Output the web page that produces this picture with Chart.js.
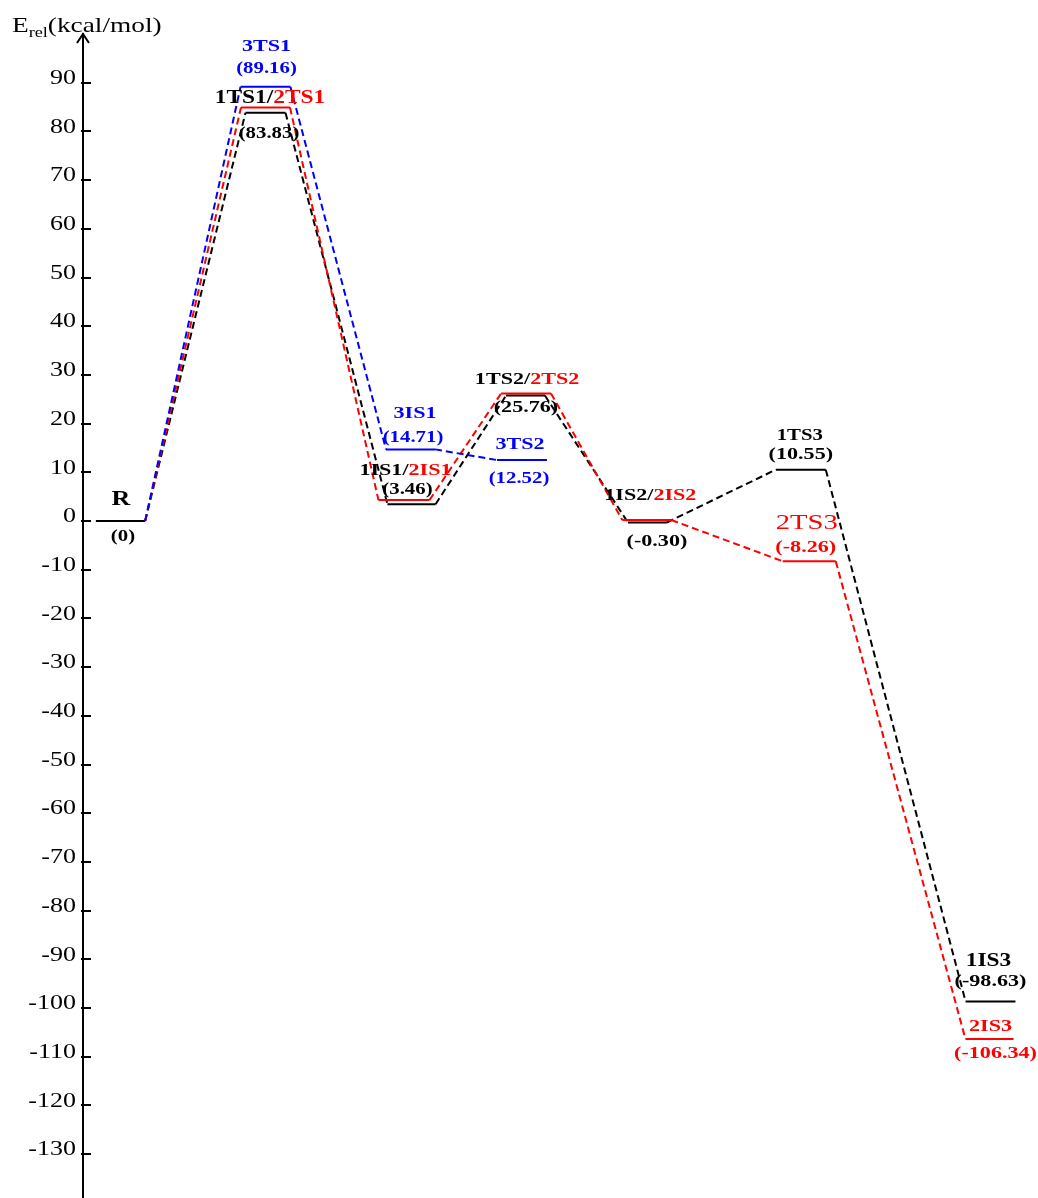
<!DOCTYPE html>
<html>
<head>
<meta charset="utf-8">
<script src="https://cdn.jsdelivr.net/npm/chart.js@4.4.1/dist/chart.umd.min.js"></script>
<style>
  html, body { margin: 0; padding: 0; background: #fff; }
</style>
</head>
<body>
<canvas id="profile" width="1038" height="1198"></canvas>
<script>
// Relative energies (kcal/mol) for each spin state along the path
const stages = ['R', 'TS1', 'IS1', 'TS2', 'IS2', 'TS3', 'IS3'];
const singletE = [0, 83.83, 3.46, 25.76, -0.30, 10.55, -98.63];
const doubletE = [0, 84.9, 4.3, 26.2, 0.2, -8.26, -106.34];
const tripletE = [0, 89.16, 14.71, 12.52];
const yTicks = [90, 80, 70, 60, 50, 40, 30, 20, 10, 0, -10, -20, -30, -40, -50, -60, -70, -80, -90, -100, -110, -120, -130];

// reaction coordinate of each stage; small shifts / half widths per level
const stageX = [0, 1, 2, 2.79, 3.63, 4.72, 6];
const series = {
  s1: { E: singletE, color: '#000000', shift: [0, 0, 0.007, 0.003, 0.004, -0.028, 0], half: [0.17, 0.138, 0.166, 0.134, 0.134, 0.172, 0.172] },
  s2: { E: doubletE, color: '#ff0000', shift: [0, 0, -0.045, 0.007, 0, 0.03, -0.007], half: [0.17, 0.169, 0.176, 0.172, 0.169, 0.183, 0.166] },
  s3: { E: tripletE, color: '#0000ff', shift: [0, 0, 0, -0.021], half: [0.17, 0.172, 0.169, 0.172] }
};

const SX = 1.3; // glyphs are drawn a little wide
const SERIF = '"Liberation Serif", "Times New Roman", serif';

function levelPoints(s, fromRight) {
  const pts = [];
  s.E.forEach((e, i) => {
    const c = stageX[i] + s.shift[i];
    if (!(fromRight && i === 0)) pts.push({ x: c - s.half[i], y: e });
    pts.push({ x: c + s.half[i], y: e });
  });
  return pts;
}

function lineSet(s, fromRight) {
  return {
    data: levelPoints(s, fromRight),
    borderColor: s.color,
    borderWidth: 2,
    pointRadius: 0,
    tension: 0,
    fill: false,
    segment: {
      // flat pieces are the energy levels, sloped pieces the dashed connectors
      borderDash: ctx => ctx.p0.parsed.y === ctx.p1.parsed.y ? [] : [7, 4]
    }
  };
}

// text labels: [series, stage, dx, dy, parts, font]
const B16 = 'bold 16px ' + SERIF, B17 = 'bold 17px ' + SERIF, B18 = 'bold 18px ' + SERIF;
const labels = [
  ['s1', 0, 0.5, -21, [['R', '#000']], 'bold 20px ' + SERIF],
  ['s1', 0, 2.5, 16, [['(0)', '#000']], B16],
  ['s3', 1, 1, -40, [['3TS1', '#0000ff']], B17],
  ['s3', 1, 1, -18, [['(89.16)', '#0000ff']], B16],
  ['s2', 1, 4.5, -9.5, [['1TS1/', '#000'], ['2TS1', '#ff0000']], B18],
  ['s1', 1, 3.5, 21, [['(83.83)', '#000']], B16],
  ['s3', 2, 4.5, -36, [['3IS1', '#0000ff']], B17],
  ['s3', 2, 2.5, -12, [['(14.71)', '#0000ff']], B16],
  ['s2', 2, 1.5, -29, [['1IS1/', '#000'], ['2IS1', '#ff0000']], B17],
  ['s2', 2, 3.5, -10, [['(3.46)', '#000']], B16],
  ['s3', 3, -2, -15, [['3TS2', '#0000ff']], B17],
  ['s3', 3, -3, 19, [['(12.52)', '#0000ff']], B16],
  ['s2', 3, 1, -14, [['1TS2/', '#000'], ['2TS2', '#ff0000']], B17],
  ['s1', 3, 0.5, 12.5, [['(25.76)', '#000']], B17],
  ['s2', 4, 3.5, -24, [['1IS2/', '#000'], ['2IS2', '#ff0000']], B17],
  ['s1', 4, 9.5, 19, [['(-0.30)', '#000']], B17],
  ['s1', 5, -1, -34, [['1TS3', '#000']], B16],
  ['s1', 5, 0, -15, [['(10.55)', '#000']], B17],
  ['s2', 5, -2.5, -38, [['2TS3', '#ff0000']], '22px ' + SERIF],
  ['s2', 5, -3.5, -14, [['(-8.26)', '#ff0000']], B17],
  ['s1', 6, -2, -40, [['1IS3', '#000']], B18],
  ['s1', 6, 0, -20, [['(-98.63)', '#000']], B17],
  ['s2', 6, 1, -12, [['2IS3', '#ff0000']], B17],
  ['s2', 6, 6, 15, [['(-106.34)', '#ff0000']], B17]
];

function wideText(ctx, str, x, y, font, color, align) {
  ctx.save();
  ctx.font = font;
  ctx.fillStyle = color;
  ctx.textAlign = align;
  ctx.textBaseline = 'middle';
  ctx.translate(x, y);
  ctx.scale(SX, 1);
  ctx.fillText(str, 0, 0);
  ctx.restore();
}

const decorations = {
  id: 'decorations',
  afterDraw(chart) {
    const ctx = chart.ctx;
    const xs = chart.scales.x, ys = chart.scales.y;
    const ax = chart.chartArea.left;

    ctx.save();
    ctx.strokeStyle = '#000';
    ctx.lineWidth = 2;
    // tick marks crossing the axis
    yTicks.forEach(v => {
      const py = Math.round(ys.getPixelForValue(v));
      ctx.beginPath();
      ctx.moveTo(ax - 2, py);
      ctx.lineTo(ax + 8, py);
      ctx.stroke();
    });
    // arrow head on top of the energy axis
    const top = chart.chartArea.top;
    ctx.beginPath();
    ctx.moveTo(ax - 6, top + 9);
    ctx.lineTo(ax, top);
    ctx.lineTo(ax + 6, top + 9);
    ctx.stroke();
    ctx.restore();

    // tick labels
    yTicks.forEach(v => {
      wideText(ctx, String(v), ax - 7, ys.getPixelForValue(v) - 4, '20px ' + SERIF, '#000', 'right');
    });

    // axis title E_rel(kcal/mol)
    ctx.save();
    ctx.fillStyle = '#000';
    ctx.textBaseline = 'alphabetic';
    ctx.translate(12, 32);
    ctx.scale(SX, 1);
    ctx.font = '21px ' + SERIF;
    ctx.fillText('E', 0, 0);
    let w = ctx.measureText('E').width;
    ctx.font = '14px ' + SERIF;
    ctx.fillText('rel', w, 5);
    w += ctx.measureText('rel').width;
    ctx.font = '21px ' + SERIF;
    ctx.fillText('(kcal/mol)', w, 0);
    ctx.restore();

    // level captions
    labels.forEach(([key, i, dx, dy, parts, font]) => {
      const s = series[key];
      const cx = xs.getPixelForValue(stageX[i] + s.shift[i]) + dx;
      const cy = ys.getPixelForValue(s.E[i]) + dy;
      ctx.save();
      ctx.font = font;
      const widths = parts.map(p => ctx.measureText(p[0]).width * SX);
      const total = widths.reduce((a, b) => a + b, 0);
      ctx.restore();
      let x = cx - total / 2;
      parts.forEach((p, k) => {
        wideText(ctx, p[0], x, cy, font, p[1], 'left');
        x += widths[k];
      });
    });
  }
};

new Chart(document.getElementById('profile'), {
  type: 'line',
  data: {
    datasets: [
      lineSet(series.s3, true),
      lineSet(series.s2, true),
      lineSet(series.s1, false)
    ]
  },
  options: {
    responsive: false,
    animation: false,
    layout: { padding: { top: 34, right: 0, bottom: 0, left: 0 } },
    plugins: { legend: { display: false }, tooltip: { enabled: false } },
    scales: {
      x: { type: 'linear', display: false, min: -0.2586, max: 6.3276 },
      y: {
        type: 'linear',
        min: -139,
        max: 100,
        afterBuildTicks: scale => { scale.ticks = yTicks.map(v => ({ value: v })); },
        afterFit: scale => { scale.width = 83; },
        grid: { display: false },
        border: { display: true, color: '#000', width: 2 },
        ticks: { display: false }
      }
    }
  },
  plugins: [decorations]
});
</script>
</body>
</html>
